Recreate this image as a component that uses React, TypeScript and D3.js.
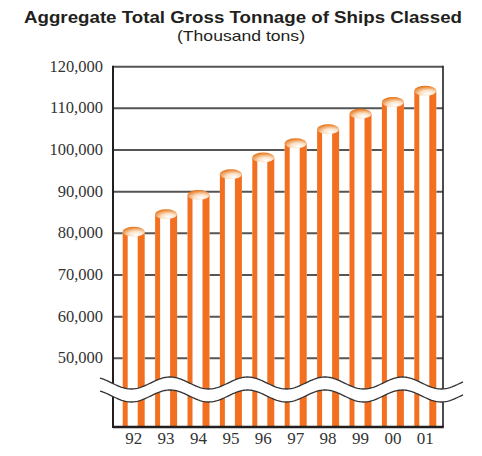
import React, { useEffect, useRef } from "react";
import * as d3 from "d3";

const years = ["92", "93", "94", "95", "96", "97", "98", "99", "00", "01"];
const tonnage = [80400, 84600, 89200, 94200, 98200, 101600, 105000, 108700, 111500, 114200];
const yTicks = [50000, 60000, 70000, 80000, 90000, 100000, 110000, 120000];

const W = 482;
const H = 456;
const plotLeft = 113;
const plotRight = 443;
const plotTop = 66.7;
const plotBottom = 427;
const ORANGE = "#f37021";

export default function App() {
  const ref = useRef<SVGSVGElement | null>(null);

  useEffect(() => {
    document.body.style.margin = "0";
    const svg = d3.select(ref.current);
    svg.selectAll("*").remove();

    const defs = svg.append("defs");
    const grad = defs
      .append("radialGradient")
      .attr("id", "capGrad")
      .attr("cx", "62%")
      .attr("cy", "78%")
      .attr("r", "75%");
    grad.append("stop").attr("offset", "0%").attr("stop-color", "#ffffff");
    grad.append("stop").attr("offset", "45%").attr("stop-color", "#fbe0c4");
    grad.append("stop").attr("offset", "100%").attr("stop-color", "#e8781f");

    const y = d3.scaleLinear().domain([50000, 120000]).range([358.3, plotTop]);
    const x = d3.scalePoint<string>().domain(years).range([133.7, 425.3]);

    // Title
    svg
      .append("text")
      .attr("x", 243)
      .attr("y", 23)
      .attr("text-anchor", "middle")
      .attr("font-family", "'Liberation Sans', Arial, sans-serif")
      .attr("font-weight", "bold")
      .attr("font-size", 17)
      .attr("fill", "#231f20")
      .attr("textLength", 438)
      .attr("lengthAdjust", "spacingAndGlyphs")
      .text("Aggregate Total Gross Tonnage of Ships Classed");
    svg
      .append("text")
      .attr("x", 241)
      .attr("y", 41)
      .attr("text-anchor", "middle")
      .attr("font-family", "'Liberation Sans', Arial, sans-serif")
      .attr("font-size", 14.5)
      .attr("fill", "#231f20")
      .attr("textLength", 128)
      .attr("lengthAdjust", "spacingAndGlyphs")
      .text("(Thousand tons)");

    // Gridlines
    svg
      .append("g")
      .selectAll("line")
      .data(yTicks)
      .join("line")
      .attr("x1", plotLeft)
      .attr("x2", plotRight)
      .attr("y1", (d) => y(d))
      .attr("y2", (d) => y(d))
      .attr("stroke", "#555")
      .attr("stroke-width", 2);

    // Y tick labels
    svg
      .append("g")
      .selectAll("text")
      .data(yTicks)
      .join("text")
      .attr("x", 103)
      .attr("y", (d) => y(d) + 5)
      .attr("text-anchor", "end")
      .attr("font-family", "'Liberation Serif', 'DejaVu Serif', serif")
      .attr("font-size", 16.5)
      .attr("fill", "#333")
      .text((d) => d3.format(",")(d));

    // Bars (cylinders)
    const barW = 22;
    const bars = svg
      .append("g")
      .selectAll("g")
      .data(years.map((yr, i) => ({ yr, v: tonnage[i] })))
      .join("g");
    bars
      .append("rect")
      .attr("x", (d) => (x(d.yr) as number) - barW / 2)
      .attr("y", (d) => y(d.v))
      .attr("width", barW)
      .attr("height", (d) => plotBottom - y(d.v))
      .attr("fill", "#fff");
    bars
      .append("rect")
      .attr("x", (d) => (x(d.yr) as number) - barW / 2)
      .attr("y", (d) => y(d.v))
      .attr("width", 5)
      .attr("height", (d) => plotBottom - y(d.v))
      .attr("fill", ORANGE);
    bars
      .append("rect")
      .attr("x", (d) => (x(d.yr) as number) + barW / 2 - 7)
      .attr("y", (d) => y(d.v))
      .attr("width", 7)
      .attr("height", (d) => plotBottom - y(d.v))
      .attr("fill", ORANGE);
    bars
      .append("ellipse")
      .attr("cx", (d) => x(d.yr) as number)
      .attr("cy", (d) => y(d.v))
      .attr("rx", barW / 2)
      .attr("ry", 5)
      .attr("fill", "url(#capGrad)");

    // Axes frame
    svg
      .append("line")
      .attr("x1", plotRight)
      .attr("x2", plotRight)
      .attr("y1", plotTop - 1)
      .attr("y2", plotBottom)
      .attr("stroke", "#231f20")
      .attr("stroke-width", 1.6);
    svg
      .append("line")
      .attr("x1", plotLeft)
      .attr("x2", plotLeft)
      .attr("y1", plotTop - 1)
      .attr("y2", plotBottom + 1)
      .attr("stroke", "#231f20")
      .attr("stroke-width", 2);
    svg
      .append("line")
      .attr("x1", plotLeft)
      .attr("x2", plotRight + 0.8)
      .attr("y1", plotBottom)
      .attr("y2", plotBottom)
      .attr("stroke", "#231f20")
      .attr("stroke-width", 2.6);

    // Axis break (wavy band)
    const period = 77.5;
    const crest = 170;
    const amp = 6;
    const xs = d3.range(100, 463.5, 1);
    const waveY = (xx: number, base: number) =>
      base - amp * Math.cos(((xx - crest) / period) * 2 * Math.PI);
    const upper = xs.map((xx) => [xx, waveY(xx, 383)] as [number, number]);
    const lower = xs.map((xx) => [xx, waveY(xx, 396)] as [number, number]);
    const line = d3.line();
    const band = upper.concat(lower.slice().reverse());
    svg
      .append("path")
      .attr("d", line(band) + "Z")
      .attr("fill", "#fff");
    svg
      .append("path")
      .attr("d", line(upper))
      .attr("fill", "none")
      .attr("stroke", "#333")
      .attr("stroke-width", 1.3);
    svg
      .append("path")
      .attr("d", line(lower))
      .attr("fill", "none")
      .attr("stroke", "#333")
      .attr("stroke-width", 1.3);

    // X labels
    svg
      .append("g")
      .selectAll("text")
      .data(years)
      .join("text")
      .attr("x", (d) => x(d) as number)
      .attr("y", 444)
      .attr("text-anchor", "middle")
      .attr("font-family", "'Liberation Serif', 'DejaVu Serif', serif")
      .attr("font-size", 17)
      .attr("fill", "#333")
      .text((d) => d);
  }, []);

  return <svg ref={ref} width={W} height={H} style={{ display: "block" }} />;
}
